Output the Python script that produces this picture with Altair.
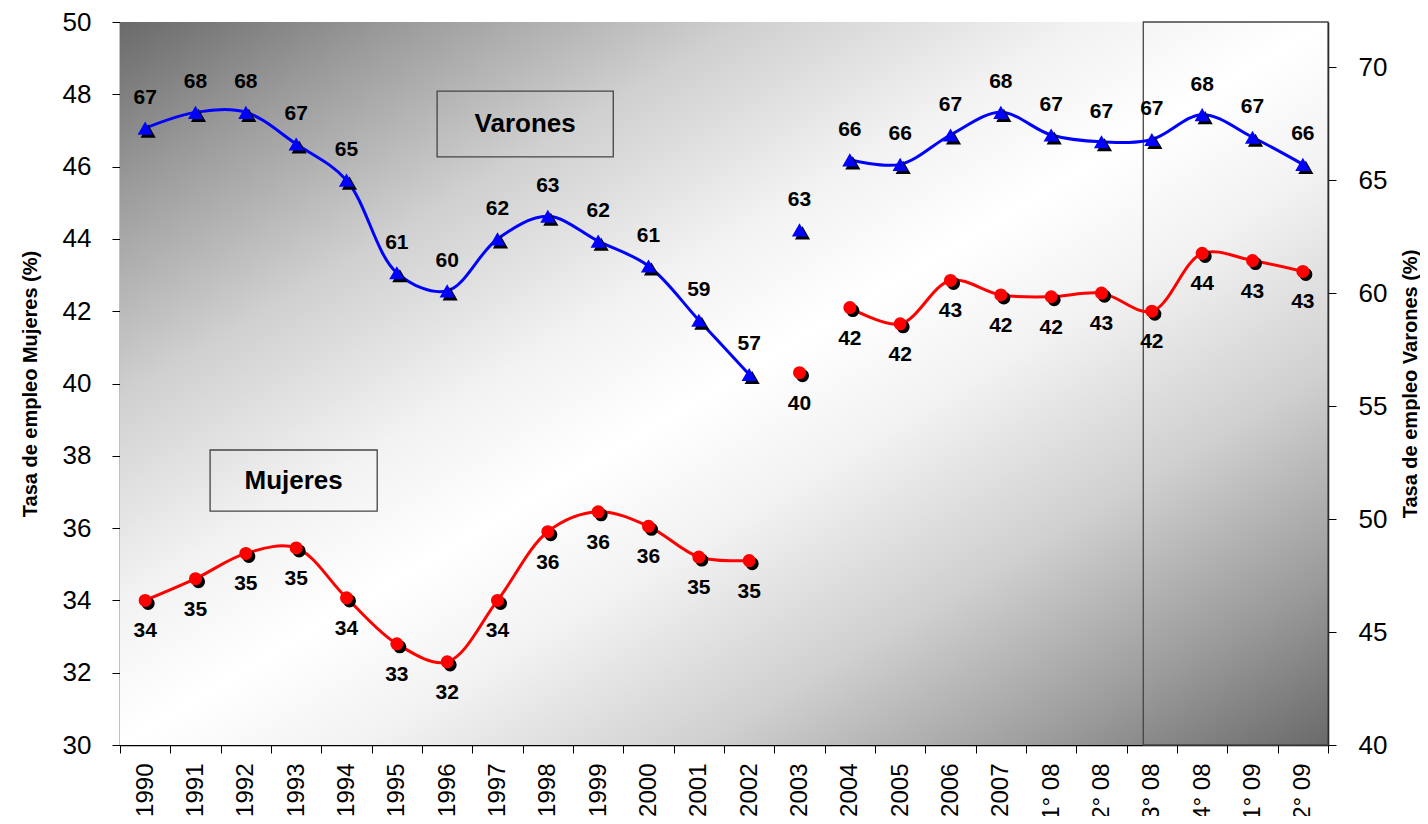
import altair as alt
import pandas as pd

categories = ["1990", "1991", "1992", "1993", "1994", "1995", "1996", "1997",
              "1998", "1999", "2000", "2001", "2002", "2003", "2004", "2005",
              "2006", "2007", "1° 08", "2° 08", "3° 08", "4° 08", "1° 09", "2° 09"]
mujeres = [34.0, 34.6, 35.3, 35.45, 34.07, 32.8, 32.3, 34.0, 35.9, 36.45, 36.05, 35.2,
           35.1, 40.3, 42.1, 41.65, 42.85, 42.45, 42.4, 42.5, 42.0, 43.6, 43.4, 43.1]
mujeres_labels = [34, 35, 35, 35, 34, 33, 32, 34, 36, 36, 36, 35,
                  35, 40, 42, 42, 43, 42, 42, 43, 42, 44, 43, 43]
varones = [67.3, 68.0, 68.0, 66.6, 65.0, 60.9, 60.1, 62.4, 63.4, 62.3, 61.2, 58.8,
           56.4, 62.8, 65.9, 65.7, 67.0, 68.0, 67.0, 66.7, 66.8, 67.9, 66.9, 65.7]
varones_labels = [67, 68, 68, 67, 65, 61, 60, 62, 63, 62, 61, 59,
                  57, 63, 66, 66, 67, 68, 67, 67, 67, 68, 67, 66]
segments = [0] * 13 + [1] + [2] * 10

# annotation boxes (x in category-index units, y on the left axis scale)
box_labels = ["Varones", "Mujeres", ""]
box_x0 = [6.30, 1.79, 20.33]
box_x1 = [9.80, 5.11, 24.0]
box_y0 = [46.27, 36.47, 30.0]
box_y1 = [48.09, 38.16, 50.0]

W, H = 1208, 723
FONT = "Liberation Sans"

df = pd.DataFrame({
    "cat": categories, "m": mujeres, "ml": mujeres_labels,
    "v": varones, "vl": varones_labels, "seg": segments,
})
boxes = pd.DataFrame({
    "label": box_labels, "x0": box_x0, "x1": box_x1, "y0": box_y0, "y1": box_y1,
})
boxes["xc"] = (boxes["x0"] + boxes["x1"]) / 2
boxes["yc"] = (boxes["y0"] + boxes["y1"]) / 2

x_scale = alt.Scale(type="band", domain=categories, paddingInner=0, paddingOuter=0)
x_enc = alt.X(
    "cat:N", sort=categories, bandPosition=0.5, scale=x_scale,
    axis=alt.Axis(title=None, labelAngle=270, labelFontSize=24, labelPadding=10,
                  tickBand="extent", tickSize=8, tickColor="black", domainColor="black",
                  domainWidth=1.5, labelColor="black", labelFont=FONT),
)
x_enc2 = alt.X("cat:N", sort=categories, bandPosition=0.5, scale=x_scale, axis=None)

ym = alt.Y("m:Q", scale=alt.Scale(domain=[30, 50], nice=False, zero=False),
           axis=alt.Axis(orient="left", values=list(range(30, 51, 2)),
                         title="Tasa de empleo Mujeres (%)", titleFontSize=20,
                         titleFontWeight="bold", titleFont=FONT, titleColor="black",
                         titlePadding=22, labelFontSize=26, labelFont=FONT,
                         labelColor="black", tickSize=8, labelPadding=21, grid=False,
                         tickColor="black", domainColor="black", domainWidth=1.5))
yv = alt.Y("v:Q", scale=alt.Scale(domain=[40, 72], nice=False, zero=False),
           axis=alt.Axis(orient="right", values=list(range(40, 71, 5)),
                         title="Tasa de empleo Varones (%)", titleFontSize=20,
                         titleFontWeight="bold", titleFont=FONT, titleColor="black",
                         titleAngle=270, titlePadding=34, labelFontSize=26,
                         labelFont=FONT, labelColor="black", tickSize=8,
                         labelPadding=22, grid=False, tickColor="black",
                         domainColor="black", domainWidth=1.5))

base = alt.Chart(df)

m_line = base.mark_line(color="#ff0000", strokeWidth=3, interpolate="catmull-rom").encode(
    x=x_enc, y=ym, detail="seg:N")
m_shadow = base.mark_point(shape="circle", filled=True, color="black", opacity=1,
                           size=170, xOffset=3, yOffset=3).encode(x=x_enc, y=ym)
m_point = base.mark_point(shape="circle", filled=True, color="#ff0000", opacity=1,
                          size=170).encode(x=x_enc, y=ym)
m_text = base.mark_text(fontSize=21, fontWeight="bold", color="black", dy=31,
                        font=FONT).encode(x=x_enc, y=ym, text="ml:Q")

v_line = base.mark_line(color="#0000ff", strokeWidth=3, interpolate="catmull-rom").encode(
    x=x_enc2, y=yv, detail="seg:N")
v_shadow = base.mark_point(shape="triangle-up", filled=True, color="black", opacity=1,
                           size=230, xOffset=3, yOffset=3).encode(x=x_enc2, y=yv)
v_point = base.mark_point(shape="triangle-up", filled=True, color="#0000ff", opacity=1,
                          size=230).encode(x=x_enc2, y=yv)
v_text = base.mark_text(fontSize=21, fontWeight="bold", color="black", dy=-30,
                        font=FONT).encode(x=x_enc2, y=yv, text="vl:Q")

left = alt.layer(m_line, m_shadow, m_point, m_text)
right = alt.layer(v_line, v_shadow, v_point, v_text)

grad = alt.LinearGradient(
    gradient="linear", x1=0, y1=0, x2=1, y2=1,
    stops=[
        alt.GradientStop(color="#6a6a6a", offset=0),
        alt.GradientStop(color="#9c9c9c", offset=0.12),
        alt.GradientStop(color="#d0d0d0", offset=0.26),
        alt.GradientStop(color="#f2f2f2", offset=0.40),
        alt.GradientStop(color="#ffffff", offset=0.5),
        alt.GradientStop(color="#f2f2f2", offset=0.60),
        alt.GradientStop(color="#d0d0d0", offset=0.74),
        alt.GradientStop(color="#9c9c9c", offset=0.88),
        alt.GradientStop(color="#6a6a6a", offset=1),
    ],
)
bg = alt.Chart(pd.DataFrame({"a": [0]})).mark_rect(color=grad).encode(
    x=alt.value(0), x2=alt.value(W), y=alt.value(0), y2=alt.value(H))

ax = alt.Scale(domain=[0, 24], nice=False, zero=False)
ay = alt.Scale(domain=[30, 50], nice=False, zero=False)
annot_b = alt.Chart(boxes)
annot_rect = annot_b.mark_rect(fillOpacity=0, stroke="#444444", strokeWidth=1.3).encode(
    x=alt.X("x0:Q", scale=ax, axis=None), x2="x1:Q",
    y=alt.Y("y0:Q", scale=ay, axis=None), y2="y1:Q")
annot_text = annot_b.mark_text(fontSize=26, fontWeight="bold", color="black",
                               font=FONT).encode(
    x=alt.X("xc:Q", scale=ax, axis=None), y=alt.Y("yc:Q", scale=ay, axis=None),
    text="label:N")
annot = alt.layer(annot_rect, annot_text)

# background, annotations, left-axis series, right-axis series
chart = alt.layer(bg, annot, left, right).resolve_scale(
    x="independent", y="independent").properties(
    width=W, height=H,
    padding={"left": 112, "top": 14, "right": 92, "bottom": 71},
    autosize=alt.AutoSizeParams(type="none"),
).configure_view(stroke="#999999", strokeWidth=1).configure(font=FONT)

chart.save("out.html", embed_options={"renderer": "svg", "actions": False})
